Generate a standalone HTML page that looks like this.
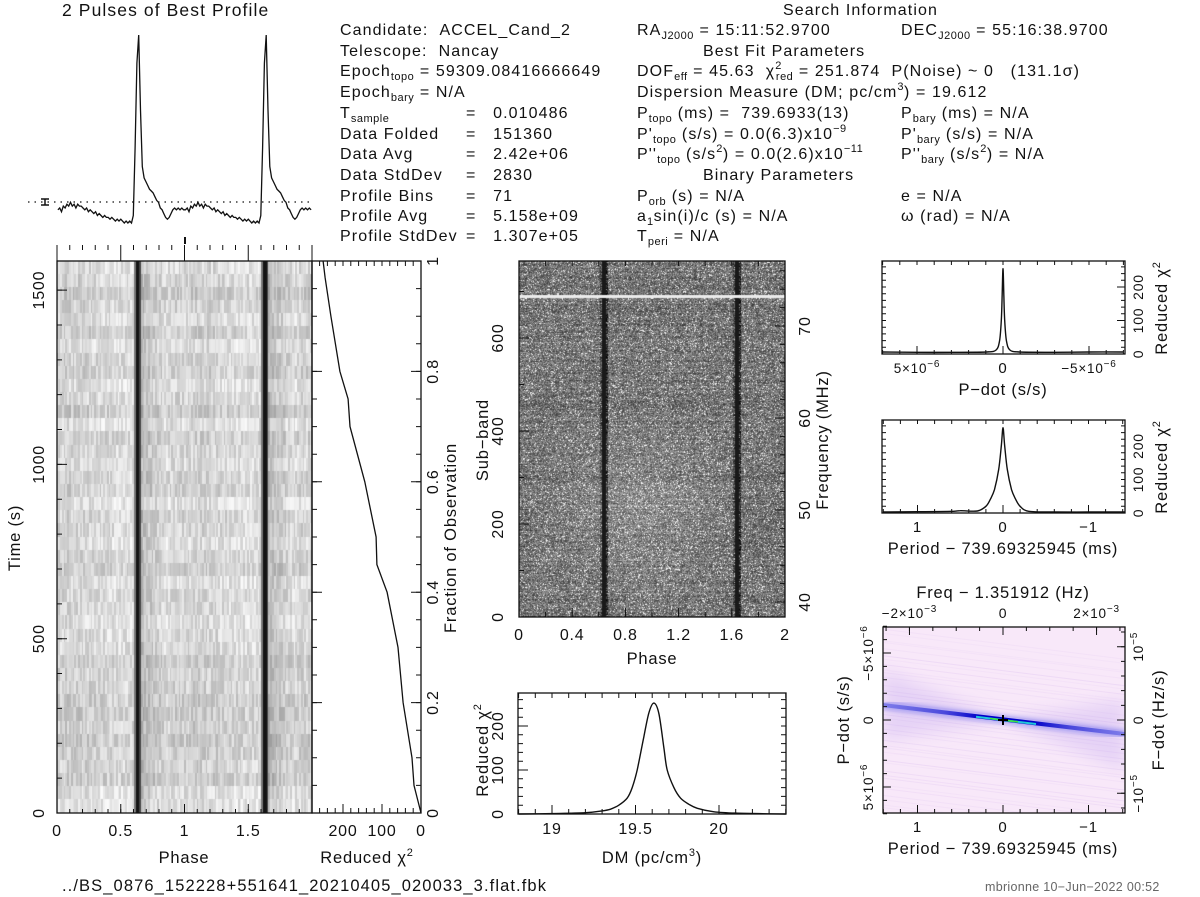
<!DOCTYPE html>
<html><head><meta charset="utf-8">
<style>
html,body{margin:0;padding:0;background:#fff;}
#root{position:relative;width:1200px;height:897px;overflow:hidden;font-family:"Liberation Sans",sans-serif;color:#111;}
canvas{position:absolute;}
svg{position:absolute;left:0;top:0;}
svg text{letter-spacing:0.8px;}
.t{position:absolute;font-size:16px;letter-spacing:1.1px;white-space:nowrap;line-height:1;}
.t sub{font-size:11px;vertical-align:-4px;line-height:0;letter-spacing:0.5px;}
.t sup{font-size:11px;vertical-align:7px;line-height:0;letter-spacing:0.5px;}
</style></head><body>
<div id="root">
<canvas id="tp" width="255" height="552" style="left:57px;top:261px;width:255px;height:552px"></canvas>
<canvas id="sb" width="266" height="356" style="left:519px;top:261px;width:266px;height:356px"></canvas>
<svg id="s" width="1200" height="897"></svg>

<div class="t" style="left:62px;top:2px;font-size:17.5px">2 Pulses of Best Profile</div>
<div class="t" style="left:340px;top:23px">Candidate:&nbsp;&nbsp;ACCEL_Cand_2</div>
<div class="t" style="left:340px;top:44px">Telescope:&nbsp;&nbsp;Nancay</div>
<div class="t" style="left:340px;top:64px">Epoch<sub>topo</sub> = 59309.08416666649</div>
<div class="t" style="left:340px;top:85px">Epoch<sub>bary</sub> = N/A</div>
<div class="t" style="left:340px;top:106px">T<sub>sample</sub></div>
<div class="t" style="left:340px;top:127px">Data Folded</div>
<div class="t" style="left:340px;top:147px">Data Avg</div>
<div class="t" style="left:340px;top:168px">Data StdDev</div>
<div class="t" style="left:340px;top:189px">Profile Bins</div>
<div class="t" style="left:340px;top:209px">Profile Avg</div>
<div class="t" style="left:340px;top:229px">Profile StdDev</div>
<div class="t" style="left:466px;top:106px">=&nbsp;&nbsp;&nbsp;0.010486</div>
<div class="t" style="left:466px;top:127px">=&nbsp;&nbsp;&nbsp;151360</div>
<div class="t" style="left:466px;top:147px">=&nbsp;&nbsp;&nbsp;2.42e+06</div>
<div class="t" style="left:466px;top:168px">=&nbsp;&nbsp;&nbsp;2830</div>
<div class="t" style="left:466px;top:189px">=&nbsp;&nbsp;&nbsp;71</div>
<div class="t" style="left:466px;top:209px">=&nbsp;&nbsp;&nbsp;5.158e+09</div>
<div class="t" style="left:466px;top:229px">=&nbsp;&nbsp;&nbsp;1.307e+05</div>

<div class="t" style="left:783px;top:3px">Search Information</div>
<div class="t" style="left:637px;top:23px">RA<sub>J2000</sub> = 15:11:52.9700</div>
<div class="t" style="left:901px;top:23px">DEC<sub>J2000</sub> = 55:16:38.9700</div>
<div class="t" style="left:703px;top:44px">Best Fit Parameters</div>
<div class="t" style="left:637px;top:64px">DOF<sub>eff</sub> = 45.63&nbsp;&nbsp;χ<sup>2</sup><sub style="margin-left:-6px">red</sub> = 251.874&nbsp;&nbsp;P(Noise) ~ 0&nbsp;&nbsp;&nbsp;(131.1σ)</div>
<div class="t" style="left:637px;top:85px">Dispersion Measure (DM; pc/cm<sup>3</sup>) = 19.612</div>
<div class="t" style="left:637px;top:106px">P<sub>topo</sub> (ms) =&nbsp;&nbsp;739.6933(13)</div>
<div class="t" style="left:901px;top:106px">P<sub>bary</sub> (ms) = N/A</div>
<div class="t" style="left:637px;top:127px">P'<sub>topo</sub> (s/s) = 0.0(6.3)x10<sup>−9</sup></div>
<div class="t" style="left:901px;top:127px">P'<sub>bary</sub> (s/s) = N/A</div>
<div class="t" style="left:637px;top:147px">P''<sub>topo</sub> (s/s<sup>2</sup>) = 0.0(2.6)x10<sup>−11</sup></div>
<div class="t" style="left:901px;top:147px">P''<sub>bary</sub> (s/s<sup>2</sup>) = N/A</div>
<div class="t" style="left:703px;top:168px">Binary Parameters</div>
<div class="t" style="left:637px;top:189px">P<sub>orb</sub> (s) = N/A</div>
<div class="t" style="left:901px;top:189px">e = N/A</div>
<div class="t" style="left:637px;top:209px">a<sub>1</sub>sin(i)/c (s) = N/A</div>
<div class="t" style="left:901px;top:209px">ω (rad) = N/A</div>
<div class="t" style="left:637px;top:229px">T<sub>peri</sub> = N/A</div>

<div class="t" style="left:62px;top:878px;font-size:16.5px">../BS_0876_152228+551641_20210405_020033_3.flat.fbk</div>
<div class="t" style="left:985px;top:881px;font-size:12.5px;letter-spacing:0.3px;color:#666">mbrionne 10−Jun−2022 00:52</div>
</div>
<script>
// ---------- data ----------
const profileBins = [7,8,6,9,8,10,9,11,9,10,8,10,9, 9,8,7,8,6,7,6,5,6,4,5,4,3, 4,3,3,2,3,2,1,2,1,2,1,0,1,0,1,0, 4,40,85,100,60,30,24,22,20,18,17,16,14,12,11,8,7,5,3,2,3,5,7,8,7,8,7,8,7];
const fracPoints = [0,0.05,0.1,0.2,0.3,0.4,0.45,0.5,0.6,0.7,0.75,0.8,0.9,0.97,1];
const fracChi2 = [0,18,23,46,59,87,113,115,144,182,187,208,231,246,251];
const dmValues = [18.8,19.0,19.2,19.3,19.35,19.4,19.45,19.48,19.51,19.55,19.58,19.61,19.64,19.67,19.69,19.73,19.77,19.82,19.87,19.97,20.1,20.4];
const dmChi2 = [0,1,3,7,11,20,36,60,100,176,230,252,228,150,100,60,36,22,13,5,2,0];
const periodValues = [1.4,1,0.6,0.5,0.3,0.2,0.15,0.1,0.05,0.02,0,-0.02,-0.05,-0.1,-0.15,-0.2,-0.3,-0.6,-1,-1.43];
const periodChi2 = [3,4,5,7,6,20,40,70,130,200,255,200,130,70,40,20,5,3,3,3];
const pdotValues = [7,5,3,1,0.4,0.2,0.1,0.05,0,-0.05,-0.1,-0.2,-0.4,-1,-3,-5,-7];
const pdotChi2 = [6,5,5,6,12,40,100,170,255,170,100,40,12,6,5,6,6];

const S=document.getElementById('s');
const NS='http://www.w3.org/2000/svg';
function mk(tag,attrs,name){
  const el=document.createElementNS(NS,tag);
  for(const k in attrs) el.setAttribute(k,attrs[k]);
  
  
  S.appendChild(el); return el;
}
function txt(x,y,s,name,o){
  o=o||{};
  const el=mk('text',{x:x,y:y,'font-size':o.fs||16,'text-anchor':o.a||'middle','font-family':'Liberation Sans, sans-serif',fill:'#111'},name);
  if(o.rot!==undefined) el.setAttribute('transform','rotate('+o.rot+' '+x+' '+y+')');
  el.innerHTML=s; return el;
}
function ticks(name,side,pos,vals,len,x0,x1,y0,y1){
  let d='';
  vals.forEach(v=>{const p=pos(v);
    if(side==='b') d+=`M${p},${y1}v${-len}`;
    if(side==='t') d+=`M${p},${y0}v${len}`;
    if(side==='l') d+=`M${x0},${p}h${len}`;
    if(side==='r') d+=`M${x1},${p}h${-len}`;});
  mk('path',{d:d,stroke:'#111','stroke-width':1,fill:'none'},name);
}
function range(a,b,s){const r=[];for(let v=a;v<=b+1e-9;v+=s)r.push(+v.toFixed(9));return r;}
function box(x0,y0,x1,y1,name){mk('rect',{x:x0,y:y0,width:x1-x0,height:y1-y0,fill:'none',stroke:'#111','stroke-width':1.3},name);}
function poly(xs,ys,fx,fy,name,w){
  const pts=xs.map((v,i)=>fx(v).toFixed(1)+','+fy(ys[i]).toFixed(1)).join(' ');
  return mk('polyline',{points:pts,fill:'none',stroke:'#111','stroke-width':w||1.4},name);
}
function smooth(xs,ys,fx,fy,name,w){
  const P=xs.map((v,i)=>[fx(v),fy(ys[i])]);
  let d=`M${P[0][0].toFixed(1)},${P[0][1].toFixed(1)}`;
  for(let i=0;i<P.length-1;i++){
    const p0=P[Math.max(0,i-1)],p1=P[i],p2=P[i+1],p3=P[Math.min(P.length-1,i+2)];
    const t=0.16;
    d+=`C${(p1[0]+(p2[0]-p0[0])*t).toFixed(1)},${(p1[1]+(p2[1]-p0[1])*t).toFixed(1)} ${(p2[0]-(p3[0]-p1[0])*t).toFixed(1)},${(p2[1]-(p3[1]-p1[1])*t).toFixed(1)} ${p2[0].toFixed(1)},${p2[1].toFixed(1)}`;
  }
  return mk('path',{d:d,fill:'none',stroke:'#111','stroke-width':w||1.4},name);
}
function hash(a,b){let h=(a*374761393+b*668265263)|0;h=(h^(h>>>13))*1274126177|0;return ((h^(h>>>16))>>>0)/4294967296;}

// ---------- profile ----------
const prX=p=>57+p*127.5, prY=v=>223-v*1.88;
const prPh=[],prV=[];
for(let k=0;k<2;k++) profileBins.forEach((v,i)=>{prPh.push(k+(i+0.5)/71);prV.push(v);});
poly(prPh,prV,prX,prY,'profile-line',1.3);
mk('line',{x1:28,y1:202,x2:312,y2:202,stroke:'#111','stroke-dasharray':'1.5 5','stroke-width':1.3},'profile-mean-line');
mk('path',{d:'M41,199h8M41,205h8M45,199v6',stroke:'#111','stroke-width':1.5},'profile-error-bar');
mk('rect',{x:184,y:237,width:2,height:7,fill:'#111'},'profile-marker');

// ---------- time-phase heatmap ----------
(function(){
  const c=document.getElementById('tp').getContext('2d');
  const rows=42, cols=142, rh=552/rows, cw=255/cols;
  for(let r=0;r<rows;r++)for(let q=0;q<cols;q++){
    const v=profileBins[q%71];
    let g=222-v*1.3+(hash(r,q)-0.5)*48+(hash(r,999)-0.5)*22;
    if(v>80) g=20; else if(v>50) g=70; else if(v>35) g=120;
    g=Math.max(0,Math.min(250,g));
    c.fillStyle=`rgb(${g|0},${g|0},${g|0})`;
    c.fillRect(Math.floor(q*cw),Math.floor(r*rh),Math.ceil(cw)+1,Math.ceil(rh)+1);
  }
})();
const tpX=p=>57+p*127.5, tpY=t=>813-t*0.3486;
box(57,261,312,813,'time-phase-frame');
ticks('tp-x-minor','b',tpX,range(0,2,0.1),4,57,312,261,813);
ticks('tp-x-major','b',tpX,range(0,2,0.5),9,57,312,261,813);
ticks('tp-xt-minor','t',tpX,range(0,2,0.1),-5,57,312,250,261);
mk('path',{d:[0,0.5,1,1.5,2].map(p=>`M${tpX(p)},261v-11`).join(''),stroke:'#111'},'tp-top-major-ticks');
ticks('tp-y-minor','l',tpY,range(0,1500,100),5,57,312,261,813);
ticks('tp-y-major','l',tpY,range(0,1500,500),10,57,312,261,813);
[0,0.5,1,1.5].forEach(p=>txt(tpX(p),836,p,'tp-x-label'));
[0,500,1000,1500].forEach(t=>txt(44,tpY(t),t,'tp-y-label',{rot:-90}));
txt(184,863,'Phase','tp-x-title',{fs:16.5});
txt(20,538,'Time (s)','tp-y-title',{fs:16.5,rot:-90});

// ---------- reduced chi2 vs time ----------
const rcX=c=>421-c*0.39, rcY=f=>813-f*552;
box(312,261,421,813,'chi2-time-frame');
poly(fracChi2,fracPoints,rcX,rcY,'chi2-time-line',1.3);
ticks('rc-x-minor','b',rcX,range(0,260,20),5,312,421,261,813);
ticks('rc-x-major','b',rcX,range(0,200,100),9,312,421,261,813);
ticks('rc-xt-minor','t',rcX,range(0,260,20),5,312,421,261,813);
ticks('rc-l-minor','l',rcY,range(0,1,0.05),5,312,421,261,813);
ticks('rc-l-major','l',rcY,range(0,1,0.2),10,312,421,261,813);
ticks('rc-r-minor','r',rcY,range(0,1,0.05),5,312,421,261,813);
ticks('rc-r-major','r',rcY,range(0,1,0.2),10,312,421,261,813);
[200,100,0].forEach(c=>txt(rcX(c),836,c,'rc-x-label'));
[0,0.2,0.4,0.6,0.8,1].forEach(f=>txt(438,rcY(f),f,'frac-label',{rot:-90}));
txt(367,863,'Reduced χ<tspan font-size="11" dy="-7">2</tspan>','rc-x-title',{fs:16.5});
txt(456,538,'Fraction of Observation','frac-title',{fs:16.5,rot:-90});

// ---------- subband heatmap ----------
(function(){
  const c=document.getElementById('sb').getContext('2d');
  const img=c.createImageData(266,356);
  for(let y=0;y<356;y++)for(let x=0;x<266;x++){
    const ph=x/133, bin=Math.floor((ph%1)*71);
    const v=profileBins[bin];
    let base=118;
    const light=Math.max(0,1-Math.abs(y-250)/110)*Math.max(0,1-Math.abs(ph-0.9)/0.9);
    base+=light*30;
    let r=hash(y,x);
    let g=base+(r-0.5)*110+(hash(y,7)-0.5)*25;
    if(r>0.93) g+=70;
    if(v>80) g=25; else if(v>50) g-=70; else if(v>35) g-=35;
    if(y>=34&&y<=36) g=235;
    g=Math.max(0,Math.min(255,g));
    const i=(y*266+x)*4; img.data[i]=img.data[i+1]=img.data[i+2]=g; img.data[i+3]=255;
  }
  c.putImageData(img,0,0);
})();
const sbX=p=>519+p*133, sbY=s=>617-s*0.465, sbF=f=>602-(f-40)*9.2;
box(519,261,785,617,'subband-frame');
ticks('sb-x-minor','b',sbX,range(0,2,0.2),5,519,785,261,617);
ticks('sb-x-major','b',sbX,range(0,2,0.4),9,519,785,261,617);
ticks('sb-xt-minor','t',sbX,range(0,2,0.2),5,519,785,261,617);
ticks('sb-y-minor','l',sbY,range(0,700,100),5,519,785,261,617);
ticks('sb-y-major','l',sbY,range(0,600,200),10,519,785,261,617);
ticks('sb-f-minor','r',sbF,range(40,76,2),5,519,785,261,617);
ticks('sb-f-major','r',sbF,range(40,70,10),10,519,785,261,617);
[0,0.4,0.8,1.2,1.6,2].forEach(p=>txt(sbX(p),640,p,'sb-x-label'));
[0,200,400,600].forEach(s=>txt(503,sbY(s),s,'sb-y-label',{rot:-90}));
[40,50,60,70].forEach(f=>txt(810,sbF(f),f,'freq-label',{rot:-90}));
txt(652,664,'Phase','sb-x-title',{fs:16.5});
txt(488,440,'Sub−band','sb-y-title',{fs:16.5,rot:-90});
txt(828,440,'Frequency (MHz)','freq-title',{fs:16.5,rot:-90});

// ---------- DM curve ----------
const dmX=d=>552+(d-19)*167, dmY=c=>814-c*0.44;
box(518,693,786,814,'dm-frame');
smooth(dmValues,dmChi2,dmX,dmY,'dm-curve',1.4);
ticks('dm-x-minor','b',dmX,range(18.8,20.4,0.1),5,518,786,693,814);
ticks('dm-x-major','b',dmX,range(19,20,0.5),9,518,786,693,814);
ticks('dm-xt-minor','t',dmX,range(18.8,20.4,0.1),5,518,786,693,814);
ticks('dm-y-minor','l',dmY,range(0,260,20),5,518,786,693,814);
ticks('dm-y-major','l',dmY,range(0,200,100),10,518,786,693,814);
ticks('dm-yr-minor','r',dmY,range(0,260,20),5,518,786,693,814);
[19,19.5,20].forEach(d=>txt(dmX(d),834,d,'dm-x-label'));
[0,100,200].forEach(c=>txt(503,dmY(c),c,'dm-y-label',{rot:-90}));
txt(652,863,'DM (pc/cm<tspan font-size="11" dy="-7">3</tspan><tspan dy="7">)</tspan>','dm-x-title',{fs:16.5});
txt(488,750,'Reduced χ<tspan font-size="11" dy="-7">2</tspan>','dm-y-title',{fs:16.5,rot:-90});

// ---------- P-dot curve ----------
const pdX=v=>1003-v*17.2, pdY=c=>354-c*0.335;
box(882,261,1125,354,'pdot-frame');
smooth(pdotValues,pdotChi2,pdX,pdY,'pdot-curve',1.4);
ticks('pd-x-minor','b',pdX,range(-7,7,1),4,882,1125,261,354);
ticks('pd-x-major','b',pdX,range(-5,5,5),8,882,1125,261,354);
ticks('pd-xt-minor','t',pdX,range(-7,7,1),4,882,1125,261,354);
ticks('pd-y-minor','l',pdY,range(0,260,20),4,882,1125,261,354);
ticks('pd-y-major','r',pdY,range(0,200,100),8,882,1125,261,354);
ticks('pd-yr-minor','r',pdY,range(0,260,20),4,882,1125,261,354);
txt(pdX(5),373,'5×10<tspan font-size="10" dy="-6">−6</tspan>','pdot-x-label',{fs:13.5});
txt(pdX(0),373,'0','pdot-x-label',{fs:15});
txt(pdX(-5),373,'−5×10<tspan font-size="10" dy="-6">−6</tspan>','pdot-x-label',{fs:13.5});
[0,100,200].forEach(c=>txt(1143,pdY(c),c,'pdot-y-label',{rot:-90,fs:14}));
txt(1003,395,'P−dot (s/s)','pdot-x-title',{fs:16.5});
txt(1167,308,'Reduced χ<tspan font-size="11" dy="-7">2</tspan>','pdot-y-title',{fs:16.5,rot:-90});

// ---------- Period curve ----------
const peX=v=>1003-v*85.5, peY=c=>513-c*0.335;
box(882,420,1125,513,'period-frame');
smooth(periodValues,periodChi2,peX,peY,'period-curve',1.4);
ticks('pe-x-minor','b',peX,range(-1.4,1.4,0.2),4,882,1125,420,513);
ticks('pe-x-major','b',peX,range(-1,1,1),8,882,1125,420,513);
ticks('pe-xt-minor','t',peX,range(-1.4,1.4,0.2),4,882,1125,420,513);
ticks('pe-y-minor','l',peY,range(0,260,20),4,882,1125,420,513);
ticks('pe-yr-minor','r',peY,range(0,260,20),4,882,1125,420,513);
[1,0,-1].forEach(v=>txt(peX(v),532,v===-1?'−1':v,'period-x-label',{fs:15}));
[0,100,200].forEach(c=>txt(1143,peY(c),c,'period-y-label',{rot:-90,fs:14}));
txt(1003,554,'Period − 739.69325945 (ms)','period-x-title',{fs:16.5});
txt(1167,467,'Reduced χ<tspan font-size="11" dy="-7">2</tspan>','period-y-title',{fs:16.5,rot:-90});

// ---------- P-Pdot plane ----------
const ppY=v=>720+v*13.4;
const defs=mk('defs',{},'ppdot-defs');
defs.innerHTML='<linearGradient id="bandg" x1="0" x2="1"><stop offset="0" stop-color="#6a6ae6" stop-opacity=".7"/><stop offset=".25" stop-color="#3a3ad8" stop-opacity=".85"/><stop offset=".4" stop-color="#0000c8"/><stop offset=".62" stop-color="#0000c8"/><stop offset=".78" stop-color="#3a3ad8" stop-opacity=".85"/><stop offset="1" stop-color="#6a6ae6" stop-opacity=".7"/></linearGradient><filter id="blr"><feGaussianBlur stdDeviation="2.5"/></filter><filter id="blr2"><feGaussianBlur stdDeviation="8"/></filter><clipPath id="ppc"><rect x="883" y="627" width="242" height="186"/></clipPath>';
mk('rect',{x:883,y:627,width:242,height:186,fill:'#f8e8f9'},'ppdot-background');
const g=mk('g',{'clip-path':'url(#ppc)'},'ppdot-image');
for(let i=0;i<40;i++){
  const y=627+i*5+hash(i,3)*4;
  const l=document.createElementNS(NS,'line');
  l.setAttribute('x1',883);l.setAttribute('y1',y);l.setAttribute('x2',1125);l.setAttribute('y2',y+30);
  l.setAttribute('stroke','#e2c8f2');l.setAttribute('stroke-opacity',(0.15+hash(i,5)*0.3).toFixed(2));l.setAttribute('stroke-width',1);
  
  
  g.appendChild(l);
}
const fan=document.createElementNS(NS,'path');
fan.setAttribute('d','M883,670 L1003,720 L1125,770 L1125,700 L1003,720 L883,740Z');
fan.setAttribute('fill','#b8a0f0');fan.setAttribute('fill-opacity','0.3');fan.setAttribute('filter','url(#blr2)');


g.appendChild(fan);
const halo=document.createElementNS(NS,'line');
halo.setAttribute('x1',883);halo.setAttribute('y1',705);halo.setAttribute('x2',1125);halo.setAttribute('y2',734);
halo.setAttribute('stroke','#7070ee');halo.setAttribute('stroke-opacity','0.5');halo.setAttribute('stroke-width',9);halo.setAttribute('filter','url(#blr)');


g.appendChild(halo);
const band=document.createElementNS(NS,'line');
band.setAttribute('x1',883);band.setAttribute('y1',705);band.setAttribute('x2',1125);band.setAttribute('y2',734);
band.setAttribute('stroke','url(#bandg)');band.setAttribute('stroke-width',4);


g.appendChild(band);
const cy=document.createElementNS(NS,'line');
cy.setAttribute('x1',976);cy.setAttribute('y1',716.8);cy.setAttribute('x2',1036);cy.setAttribute('y2',724);
cy.setAttribute('stroke','#20c8d8');cy.setAttribute('stroke-width',2);


g.appendChild(cy);
const gr=document.createElementNS(NS,'line');
gr.setAttribute('x1',990);gr.setAttribute('y1',718.5);gr.setAttribute('x2',1018);gr.setAttribute('y2',721.8);
gr.setAttribute('stroke','#40e040');gr.setAttribute('stroke-width',1.6);


g.appendChild(gr);
mk('path',{d:`M${peX(0)-5},${ppY(0)}h10M${peX(0)},${ppY(0)-5}v10`,stroke:'#000','stroke-width':2},'best-fit-marker');
box(883,627,1125,813,'ppdot-frame');
ticks('pp-x-minor','b',peX,range(-1.4,1.4,0.2),4,883,1125,627,813);
ticks('pp-x-major','b',peX,range(-1,1,1),8,883,1125,627,813);
const fX=f=>1003+f/1.828*85.5;
ticks('pp-xt-minor','t',fX,range(-2.5,2.5,0.5),4,883,1125,627,813);
ticks('pp-xt-major','t',fX,range(-2,2,2),8,883,1125,627,813);
ticks('pp-y-minor','l',ppY,range(-7,7,1),4,883,1125,627,813);
ticks('pp-y-major','l',ppY,range(-5,5,5),8,883,1125,627,813);
const fdY=v=>720-v/1.828*13.4;
ticks('pp-yr-minor','r',fdY,range(-12,12,2),4,883,1125,627,813);
ticks('pp-yr-major','r',fdY,range(-10,10,10),8,883,1125,627,813);
[1,0,-1].forEach(v=>txt(peX(v),832,v===-1?'−1':v,'ppdot-x-label',{fs:15}));
txt(1003,854,'Period − 739.69325945 (ms)','ppdot-x-title',{fs:16.5});
txt(fX(-2),618,'−2×10<tspan font-size="10" dy="-6">−3</tspan>','freq-x-label',{fs:13.5});
txt(fX(0),618,'0','freq-x-label',{fs:14});
txt(fX(2),618,'2×10<tspan font-size="10" dy="-6">−3</tspan>','freq-x-label',{fs:13.5});
txt(1003,598,'Freq − 1.351912 (Hz)','freq-title',{fs:16.5});
txt(873,ppY(-5),'−5×10<tspan font-size="10" dy="-6">−6</tspan>','ppdot-y-label',{fs:13.5,rot:-90});
txt(873,ppY(0),'0','ppdot-y-label',{fs:14,rot:-90});
txt(873,ppY(5),'5×10<tspan font-size="10" dy="-6">−6</tspan>','ppdot-y-label',{fs:13.5,rot:-90});
txt(849,720,'P−dot (s/s)','ppdot-y-title',{fs:16.5,rot:-90});
txt(1143,fdY(10),'10<tspan font-size="10" dy="-6">−5</tspan>','fdot-label',{fs:13.5,rot:-90});
txt(1143,fdY(0),'0','fdot-label',{fs:14,rot:-90});
txt(1143,fdY(-10),'−10<tspan font-size="10" dy="-6">−5</tspan>','fdot-label',{fs:13.5,rot:-90});
txt(1164,720,'F−dot (Hz/s)','fdot-title',{fs:16.5,rot:-90});
</script>
</body></html>
